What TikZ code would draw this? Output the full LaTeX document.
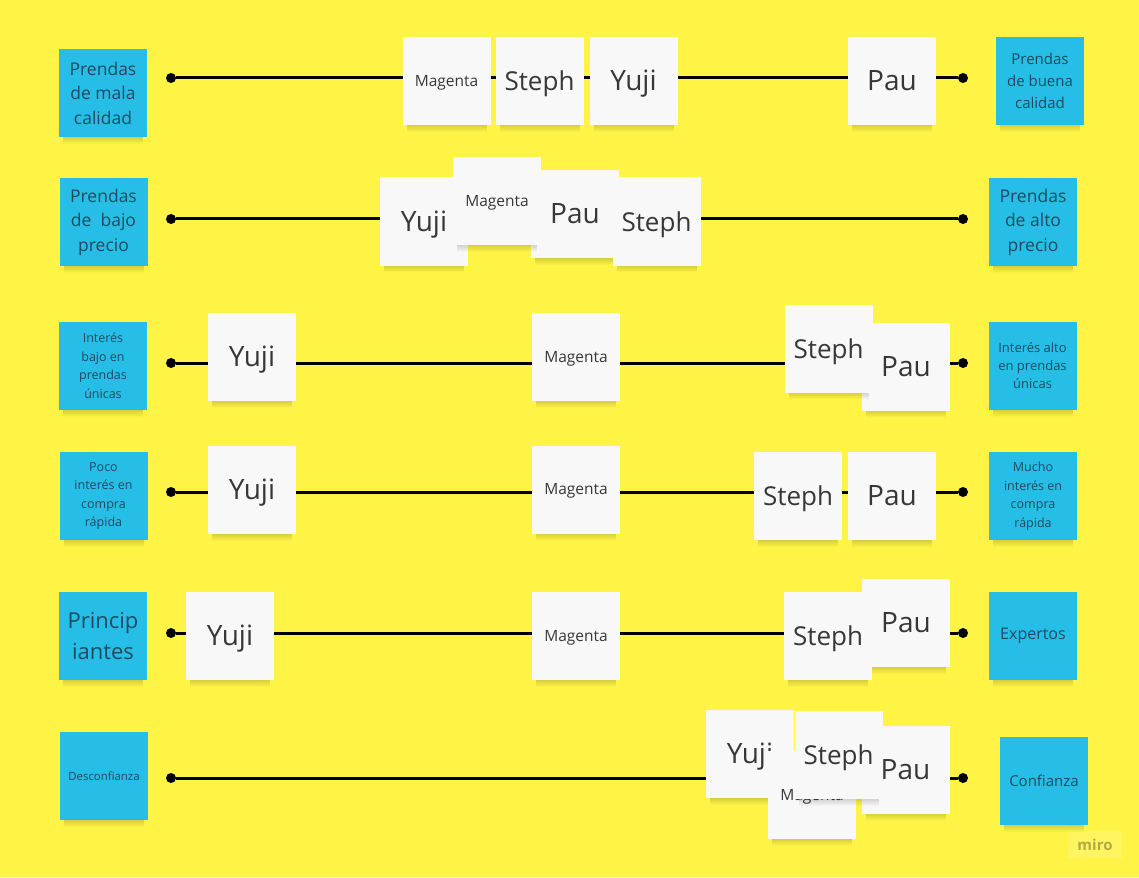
\documentclass[tikz,border=0pt]{standalone}
\usepackage{fontspec}
\setmainfont{Open Sans}
\usetikzlibrary{fadings}
\definecolor{boardyellow}{RGB}{255,244,69}
\definecolor{stickyblue}{RGB}{38,190,230}
\definecolor{bluetext}{RGB}{33,74,94}
\definecolor{notewhite}{RGB}{248,248,248}
\definecolor{greytext}{RGB}{55,55,55}
\newcommand\fs[2]{\fontsize{#1}{#2}\selectfont}
\newcommand\stickynote[5]{%
  \fill[noteshadow] ({#2-40},{#3+36}) rectangle ({#2+40},{#3+51});
  \node[#4] (#1) at (#2,#3) {#5};}
\begin{document}
\begin{tikzpicture}[x=1pt,y=-1pt,
  noteshadow/.style={fill=black,fill opacity=0.32,path fading=south},
  basenote/.style={minimum width=88pt,minimum height=88pt,inner sep=0pt,align=center},
  bnote/.style={basenote,fill=stickyblue,text=bluetext},
  wnote/.style={basenote,fill=notewhite,text=greytext},
  bignote/.style={wnote,font=\fs{27}{30},text height=21pt,text depth=1.5pt},
  magnote/.style={wnote,font=\fs{15.5}{18},text height=12pt,text depth=1.5pt},
  scale line/.style={line width=3pt,black},
  enddot/.style={circle,fill=black,inner sep=0pt,minimum size=10pt}]
\fill[boardyellow] (0,0) rectangle (1139,877);
\useasboundingbox (0,0) rectangle (1139,877);

% end dots and scale lines
\foreach \r/\y in {1/78,2/219,3/363,4/492,5/633,6/778}{
  \node[enddot] (l\r) at (171,\y) {};
  \node[enddot] (r\r) at (963,\y) {};
  \draw[scale line] (l\r) -- (r\r);
}

% row 1
\stickynote{a1}{103}{93}{bnote,font=\fs{17.5}{24.5}}{Prendas\\de mala\\calidad}
\stickynote{b1}{1040}{81}{bnote,font=\fs{15}{22}}{Prendas\\de buena\\calidad}
\stickynote{m1}{446.5}{81}{magnote}{Magenta}
\stickynote{s1}{539.5}{81}{bignote,font=\fs{26}{30}}{Steph}
\stickynote{y1}{633.5}{81}{bignote,font=\fs{28}{30}}{Yuji}
\stickynote{p1}{892}{81}{bignote,font=\fs{28}{30}}{Pau}

% row 2
\stickynote{a2}{103.5}{222}{bnote,font=\fs{17.5}{24.5}}{Prendas\\de\ \ bajo\\precio}
\stickynote{b2}{1033}{222}{bnote,font=\fs{17.5}{24.5}}{Prendas\\de alto\\precio}
\stickynote{y2}{424}{221.5}{bignote,font=\fs{28}{30}}{Yuji}
\stickynote{p2}{575}{214}{bignote,font=\fs{28}{30}}{Pau}
\stickynote{s2}{656.5}{221.5}{bignote,font=\fs{26}{30}}{Steph}
\stickynote{m2}{497}{201}{magnote}{Magenta}

% row 3
\stickynote{a3}{103}{366}{bnote,font=\fs{12.5}{18.5}}{Interés\\bajo en\\prendas\\únicas}
\stickynote{b3}{1032.5}{366}{bnote,font=\fs{13}{18}}{Interés alto\\en prendas\\únicas}
\stickynote{y3}{252}{357}{bignote,font=\fs{28}{30}}{Yuji}
\stickynote{m3}{576}{357}{magnote}{Magenta}
\stickynote{p3}{906}{366.5}{bignote,font=\fs{28}{30}}{Pau}
\stickynote{s3}{828.5}{348.5}{bignote,font=\fs{26}{30}}{Steph}

% row 4
\stickynote{a4}{103.5}{496}{bnote,font=\fs{12.5}{18.5}}{Poco\\interés en\\compra\\rápida}
\stickynote{b4}{1033}{496}{bnote,font=\fs{12.5}{18.5}}{Mucho\\interés en\\compra\\rápida}
\stickynote{y4}{252}{490}{bignote,font=\fs{28}{30}}{Yuji}
\stickynote{m4}{576}{489.5}{magnote}{Magenta}
\stickynote{s4}{798}{496}{bignote,font=\fs{26}{30}}{Steph}
\stickynote{p4}{892}{496}{bignote,font=\fs{28}{30}}{Pau}

% row 5
\stickynote{a5}{103}{636}{bnote,font=\fs{22}{31}}{Princip\\iantes}
\stickynote{b5}{1033}{636}{bnote,font=\fs{16}{20}}{Expertos}
\stickynote{y5}{230}{636}{bignote,font=\fs{28}{30}}{Yuji}
\stickynote{m5}{576}{636}{magnote}{Magenta}
\stickynote{p5}{906}{623}{bignote,font=\fs{28}{30}}{Pau}
\stickynote{s5}{828}{636}{bignote,font=\fs{26}{30}}{Steph}

% row 6
\stickynote{a6}{104}{776}{bnote,font=\fs{11.4}{14}}{Desconfianza}
\stickynote{b6}{1044}{781}{bnote,font=\fs{15}{18}}{Confianza}
\stickynote{p6}{905.5}{769.5}{bignote,font=\fs{28}{30}}{Pau}
\stickynote{y6}{750}{754}{bignote,font=\fs{28}{30}}{Yuji}
\stickynote{m6}{812}{795}{magnote}{Magenta}
\stickynote{s6}{838.5}{755}{bignote,font=\fs{26}{30}}{Steph}

% watermark
\node[fill=white,fill opacity=0.15,text opacity=0.3,text=black,
  minimum width=54pt,minimum height=27pt,inner sep=0pt,
  font=\fs{15}{18}\bfseries] (logo) at (1095,844.5) {miro};
\end{tikzpicture}
\end{document}
